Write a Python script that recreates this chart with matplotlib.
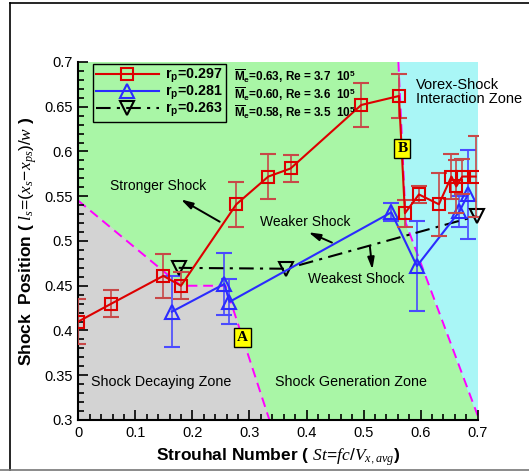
import matplotlib
matplotlib.use("Agg")
import matplotlib.pyplot as plt
from matplotlib.lines import Line2D
from matplotlib.ticker import MultipleLocator

plt.rcParams['font.family'] = ['Liberation Sans', 'DejaVu Sans']
plt.rcParams['mathtext.fontset'] = 'custom'
plt.rcParams['mathtext.rm'] = 'Liberation Sans'
plt.rcParams['mathtext.it'] = 'Liberation Serif:italic'
plt.rcParams['mathtext.bf'] = 'Liberation Sans:bold'

# rp = 0.297 (red squares)
st_297 = [0.0, 0.058, 0.149, 0.18, 0.277, 0.333, 0.372, 0.496, 0.562, 0.5725,
          0.597, 0.632, 0.654, 0.6625, 0.673, 0.6965]
pos_297 = [0.41, 0.43, 0.461, 0.45, 0.541, 0.572, 0.581, 0.652, 0.662, 0.531,
           0.552, 0.541, 0.572, 0.561, 0.572, 0.572]
err_297 = [0.025, 0.015, 0.025, 0.015, 0.025, 0.025, 0.015, 0.025, 0.025, 0.015,
           0.01, 0.035, 0.025, 0.03, 0.02, 0.045]

# rp = 0.281 (blue triangles)
st_281 = [0.164, 0.256, 0.265, 0.5486, 0.5935, 0.668, 0.683]
pos_281 = [0.421, 0.452, 0.432, 0.532, 0.472, 0.533, 0.552]
err_281 = [0.04, 0.035, 0.025, 0.01, 0.05, 0.017, 0.05]

# rp = 0.263 (black, dash-dot)
st_263 = [0.176, 0.364, 0.699]
pos_263 = [0.47, 0.469, 0.528]

labels = [r'$\mathbf{r}_\mathbf{p}$=0.297', r'$\mathbf{r}_\mathbf{p}$=0.281',
          r'$\mathbf{r}_\mathbf{p}$=0.263']
conditions = [r'$\overline{\mathbf{M}}_\mathbf{e}$=0.63, Re = 3.7  10$^\mathbf{5}$',
              r'$\overline{\mathbf{M}}_\mathbf{e}$=0.60, Re = 3.6  10$^\mathbf{5}$',
              r'$\overline{\mathbf{M}}_\mathbf{e}$=0.58, Re = 3.5  10$^\mathbf{5}$']

# zone boundaries
decay_zone = [(0.0, 0.3), (0.0, 0.545), (0.18, 0.45), (0.258, 0.45), (0.335, 0.3)]
vortex_zone = [(0.561, 0.7), (0.7, 0.7), (0.7, 0.305), (0.574, 0.52)]

fig = plt.figure(figsize=(5.29, 4.75), dpi=100)
ax = fig.add_axes([0.148, 0.1158, 0.755, 0.7537])

# background zones
ax.fill([0, 0.7, 0.7, 0], [0.3, 0.3, 0.7, 0.7], color='#A9F6A6', zorder=0)
ax.fill(*zip(*decay_zone), color='#D3D3D3', zorder=0.5)
ax.fill(*zip(*vortex_zone), color='#A9F6F6', zorder=0.5)
dx, dy = zip(*decay_zone[1:])
ax.plot(dx, dy, color='#FF00FF', ls=(0, (5, 3)), lw=1.4, zorder=1)
vx, vy = zip(*[vortex_zone[0], vortex_zone[3], vortex_zone[2]])
ax.plot(vx, vy, color='#FF00FF', ls=(0, (5, 3)), lw=1.4, zorder=1)

# data
ax.errorbar(st_297, pos_297, yerr=err_297, color='#DD0000', ecolor='#C84848',
            elinewidth=1.2, capsize=6, capthick=1.2, marker='s', ms=9, mfc='none',
            mec='#DD0000', mew=1.5, lw=1.5, zorder=4)
ax.errorbar(st_281, pos_281, yerr=err_281, color='#2B2BFF', ecolor='#4A4AFF',
            elinewidth=1.2, capsize=6, capthick=1.2, marker='^', ms=10, mfc='none',
            mec='#2B2BFF', mew=1.5, lw=1.5, zorder=3)
ax.plot(st_263, pos_263, color='black', ls=(0, (7, 3, 1.5, 3)), lw=1.5,
        marker='v', ms=10, mfc='none', mec='black', mew=1.5, zorder=3, clip_on=False)

# legend
handles = [
    Line2D([], [], color='#DD0000', lw=1.5, marker='s', ms=9, mfc='none', mew=1.5),
    Line2D([], [], color='#2B2BFF', lw=1.5, marker='^', ms=10, mfc='none', mew=1.5),
    Line2D([], [], color='black', lw=1.5, ls=(0, (7, 3, 1.5, 3)), marker='v', ms=10,
           mfc='none', mew=1.5),
]
leg = ax.legend(handles, labels, loc='upper left', bbox_to_anchor=(0.037, 0.995),
                frameon=True, fancybox=False, framealpha=1,
                prop={'weight': 'bold', 'size': 10.3}, handlelength=4.4,
                labelspacing=-0.05, borderpad=0.2, handletextpad=0.45,
                borderaxespad=0)
leg.get_frame().set_facecolor('none')
leg.get_frame().set_edgecolor('black')
leg.get_frame().set_linewidth(1.0)
for i, c in enumerate(conditions):
    ax.text(0.39, 0.961 - i * 0.05, c, transform=ax.transAxes, fontsize=8.5,
            fontweight='bold', va='center', ha='left', zorder=6)

# annotations
ax.annotate('', xy=(0.1756, 0.548), xytext=(0.252, 0.52),
            arrowprops=dict(arrowstyle='-|>,head_length=0.7,head_width=0.2',
                            color='black', lw=1.4), zorder=5)
ax.text(0.0555, 0.561, 'Stronger Shock', fontsize=10, va='center', ha='left')
ax.annotate('', xy=(0.399, 0.511), xytext=(0.449, 0.497),
            arrowprops=dict(arrowstyle='-|>,head_length=0.7,head_width=0.2',
                            color='black', lw=1.4), zorder=5)
ax.text(0.318, 0.521, 'Weaker Shock', fontsize=10, va='center', ha='left')
ax.annotate('', xy=(0.516, 0.465), xytext=(0.5105, 0.497),
            arrowprops=dict(arrowstyle='-|>,head_length=0.7,head_width=0.2',
                            color='black', lw=1.4), zorder=5)
ax.text(0.402, 0.457, 'Weakest Shock', fontsize=10, va='center', ha='left')
ax.text(0.592, 0.667, 'Vorex-Shock\nInteraction Zone', fontsize=10.5, va='center',
        ha='left', linespacing=1.0)
ax.text(0.022, 0.343, 'Shock Decaying Zone', fontsize=10.3, va='center', ha='left')
ax.text(0.344, 0.343, 'Shock Generation Zone', fontsize=10.3, va='center', ha='left')
for lab, xy in [('A', (0.288, 0.392)), ('B', (0.568, 0.603))]:
    ax.text(xy[0], xy[1], lab, fontsize=11, fontweight='bold', family='Liberation Serif',
            ha='center', va='center', zorder=7,
            bbox=dict(boxstyle='square,pad=0.2', fc='#FFFF00', ec='black', lw=1.0))

# axes
ax.set_xlim(0, 0.7)
ax.set_ylim(0.3, 0.7)
ax.spines['top'].set_visible(False)
ax.spines['right'].set_visible(False)
ax.spines['left'].set_linewidth(1.5)
ax.spines['bottom'].set_linewidth(1.5)
ax.xaxis.set_minor_locator(MultipleLocator(0.02))
ax.yaxis.set_minor_locator(MultipleLocator(0.01))
ax.set_xticks([0, 0.1, 0.2, 0.3, 0.4, 0.5, 0.6, 0.7])
ax.set_xticklabels(['0', '0.1', '0.2', '0.3', '0.4', '0.5', '0.6', '0.7'])
ax.set_yticks([0.3, 0.35, 0.4, 0.45, 0.5, 0.55, 0.6, 0.65, 0.7])
ax.set_yticklabels(['0.3', '0.35', '0.4', '0.45', '0.5', '0.55', '0.6', '0.65', '0.7'])
ax.tick_params(which='both', direction='in', labelsize=10.5, width=1.2)
ax.tick_params(which='major', length=7, pad=4)
ax.tick_params(which='minor', length=4)
ax.set_xlabel(r'Strouhal Number ( $St\!=\!fc/V_{x,avg}$)', fontsize=12.5,
              fontweight='bold', labelpad=5)
ax.set_ylabel(r'Shock  Position ( $l_s\!=\!(x_s\!-\!x_{ps})/w$ )', fontsize=12.5,
              fontweight='bold', labelpad=4)

# figure frame
fig.add_artist(Line2D([10 / 529, 10 / 529], [5 / 475, 1 - 3 / 475], color='black', lw=1.2))
fig.add_artist(Line2D([10 / 529, 1], [1 - 3 / 475, 1 - 3 / 475], color='black', lw=1.2))
fig.add_artist(Line2D([0, 1], [5 / 475, 5 / 475], color='#777777', lw=1.2))

fig.savefig('out.png', dpi=100)
